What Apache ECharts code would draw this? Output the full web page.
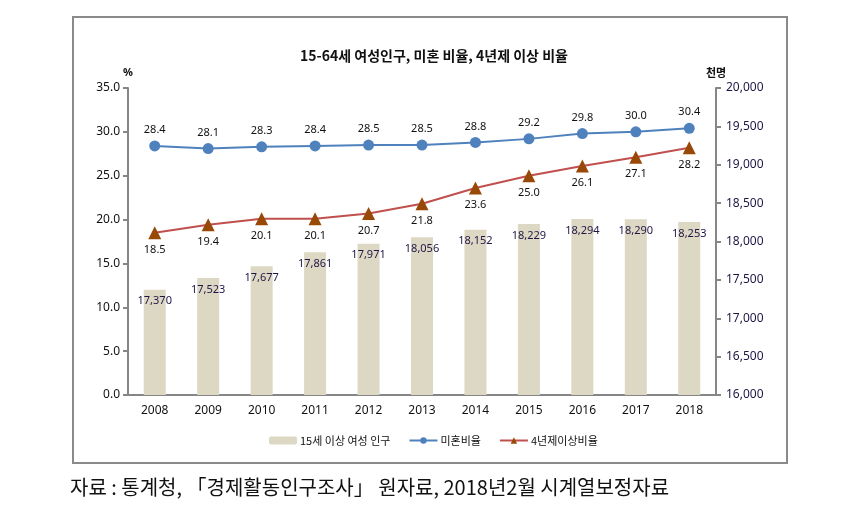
<!DOCTYPE html>
<html>
<head>
<meta charset="utf-8">
<script src="https://cdn.jsdelivr.net/npm/echarts@6/dist/echarts.min.js"></script>
<style>
html,body{margin:0;padding:0;background:#fff;}
#c{width:863px;height:506px;}
</style>
</head>
<body>
<div id="c"></div>
<script>
var years = ['2008','2009','2010','2011','2012','2013','2014','2015','2016','2017','2018'];
var womenPop = [17370,17523,17677,17861,17971,18056,18152,18229,18294,18290,18253];
var unmarried = [28.4,28.1,28.3,28.4,28.5,28.5,28.8,29.2,29.8,30.0,30.4];
var college = [18.5,19.4,20.1,20.1,20.7,21.8,23.6,25.0,26.1,27.1,28.2];
var leftTicks = {min:0,max:35,interval:5};
var rightTicks = {min:16000,max:20000,interval:500};

var FONT = "'Noto Sans','Noto Sans CJK KR',sans-serif";
var chart = echarts.init(document.getElementById('c'));
chart.setOption({
  backgroundColor:'#fff',
  animation:false,
  textStyle:{fontFamily:FONT},
  title:{
    text:'15-64세 여성인구, 미혼 비율, 4년제 이상 비율',
    left:429, top:44, textAlign:'center',
    textStyle:{fontSize:14,fontWeight:'bold',color:'#111',fontFamily:"'Noto Sans CJK KR',sans-serif"}
  },
  graphic:[
    {type:'rect',shape:{x:73,y:17,width:714,height:446},style:{fill:'none',stroke:'#8a8a8a',lineWidth:2},silent:true},
    {type:'text',left:70,top:477,style:{text:'자료 : 통계청, 「경제활동인구조사」 원자료, 2018년2월 시계열보정자료',fontSize:20,fill:'#111',fontFamily:"'Noto Sans CJK KR',serif"}}
  ],
  legend:{
    left:264, top:430,
    itemWidth:28, itemHeight:8, itemGap:18,
    textStyle:{fontSize:11,color:'#111',fontFamily:"'Noto Sans CJK KR',sans-serif",padding:[0,0,0,-2]},
    data:['15세 이상 여성 인구','미혼비율','4년제이상비율']
  },
  grid:{left:128,right:147,top:88,bottom:111},
  xAxis:{
    type:'category',data:years,boundaryGap:true,
    axisLine:{lineStyle:{color:'#868686',width:2}},
    axisTick:{alignWithLabel:false,length:5,lineStyle:{color:'#868686',width:2}},
    axisLabel:{fontSize:12,color:'#111',margin:10}
  },
  yAxis:[
    {type:'value',min:leftTicks.min,max:leftTicks.max,interval:leftTicks.interval,
     name:'%',nameLocation:'end',nameGap:10,
     nameTextStyle:{fontSize:11,fontWeight:'bold',color:'#111',align:'center'},
     axisLine:{show:true,lineStyle:{color:'#868686',width:2}},
     axisTick:{show:true,length:5,lineStyle:{color:'#868686',width:2}},
     splitLine:{show:false},
     axisLabel:{fontSize:12,color:'#111',margin:8,formatter:function(v){return v.toFixed(1);}}},
    {type:'value',min:rightTicks.min,max:rightTicks.max,interval:rightTicks.interval,
     name:'천명',nameLocation:'end',nameGap:10,
     nameTextStyle:{fontSize:11,fontWeight:'bold',color:'#111',align:'center',fontFamily:"'Noto Sans CJK KR',sans-serif"},
     axisLine:{show:true,lineStyle:{color:'#868686',width:2}},
     axisTick:{show:true,length:5,lineStyle:{color:'#868686',width:2}},
     splitLine:{show:false},
     axisLabel:{fontSize:12,color:'#1f1646',margin:10,formatter:function(v){return v.toLocaleString('en-US');}}}
  ],
  series:[
    {name:'15세 이상 여성 인구',type:'bar',yAxisIndex:1,data:womenPop,barWidth:22,
     itemStyle:{color:'#ddd8c3'},
     label:{show:true,position:'insideTop',distance:6,fontSize:11,color:'#1f1646',
       formatter:function(p){return p.value.toLocaleString('en-US');}}},
    {name:'미혼비율',type:'line',yAxisIndex:0,data:unmarried,
     symbol:'circle',symbolSize:11,
     lineStyle:{color:'#4f81bd',width:2},itemStyle:{color:'#4f81bd'},
     label:{show:true,position:'top',distance:5,fontSize:11,color:'#111',
       formatter:function(p){return p.value.toFixed(1);}}},
    {name:'4년제이상비율',type:'line',yAxisIndex:0,data:college,
     symbol:'triangle',symbolSize:13,
     lineStyle:{color:'#c0504d',width:2},itemStyle:{color:'#984807'},
     label:{show:true,position:'bottom',distance:5,fontSize:11,color:'#111',
       formatter:function(p){return p.value.toFixed(1);}}}
  ]
});
</script>
</body>
</html>
